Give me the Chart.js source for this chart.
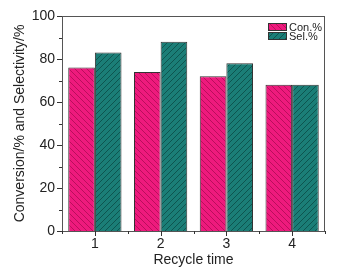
<!DOCTYPE html>
<html>
<head>
<meta charset="utf-8">
<script src="https://cdn.jsdelivr.net/npm/chart.js@4.4.1/dist/chart.umd.min.js"></script>
<style>
  html, body { margin: 0; padding: 0; background: #fff; }
  #wrap { width: 338px; height: 273px; }
</style>
</head>
<body>
<div id="wrap"><canvas id="grafico" width="338" height="273"></canvas></div>
<script>
const ciclos = ['1', '2', '3', '4'];
const conversao = [76, 74, 72, 68];
const seletividade = [83, 88, 78, 68];
const nomesSeries = ['Con.%', 'Sel.%'];

function hachura(fundo, linha, invertida) {
    const c = document.createElement('canvas');
    c.width = 6; c.height = 6;
    const g = c.getContext('2d');
    g.fillStyle = fundo;
    g.fillRect(0, 0, 6, 6);
    g.strokeStyle = linha;
    g.lineWidth = 0.8;
    g.beginPath();
    if (invertida) {
        g.moveTo(-1, -1); g.lineTo(7, 7);
        g.moveTo(-4, 2); g.lineTo(4, 10);
        g.moveTo(2, -4); g.lineTo(10, 4);
    } else {
        g.moveTo(-1, 7); g.lineTo(7, -1);
        g.moveTo(-4, 4); g.lineTo(4, -4);
        g.moveTo(2, 10); g.lineTo(10, 2);
    }
    g.stroke();
    return g.createPattern(c, 'repeat');
}

const ctx = document.getElementById('grafico').getContext('2d');
const padraoRosa = hachura('#ee1a7d', 'rgba(120,0,50,0.55)', true);
const padraoVerde = hachura('#1b7e77', 'rgba(0,40,36,0.6)', false);

const moldura = {
    id: 'moldura',
    afterDraw(chart) {
        const g = chart.ctx;
        const a = chart.chartArea;
        const x = chart.scales.x, y = chart.scales.y;
        g.save();
        g.strokeStyle = '#555';
        g.lineWidth = 1;
        g.strokeRect(a.left + 0.5, a.top + 0.5, a.right - a.left - 1, a.bottom - a.top);
        g.strokeStyle = '#333';
        g.beginPath();
        // ticks do eixo y
        for (let v = 0; v <= 100; v += 10) {
            const py = Math.round(y.getPixelForValue(v)) + 0.5;
            const len = v % 20 === 0 ? 5 : 3;
            g.moveTo(a.left - len, py); g.lineTo(a.left, py);
        }
        // ticks do eixo x
        for (let i = 0; i < ciclos.length; i++) {
            const px = Math.round(x.getPixelForValue(i)) + 0.5;
            g.moveTo(px, a.bottom); g.lineTo(px, a.bottom + 5);
        }
        for (let i = 0; i <= ciclos.length; i++) {
            const px = Math.round(x.getPixelForValue(i - 0.5)) + 0.5;
            g.moveTo(px, a.bottom); g.lineTo(px, a.bottom + 3);
        }
        g.stroke();
        // legenda
        const cores = [padraoRosa, padraoVerde];
        g.font = '11px "Liberation Sans", Arial, sans-serif';
        g.textBaseline = 'middle';
        nomesSeries.forEach((nome, i) => {
            const bx = 268, by = 23 + i * 9;
            g.fillStyle = cores[i];
            g.fillRect(bx, by, 19, 8);
            g.strokeStyle = '#333';
            g.strokeRect(bx + 0.5, by + 0.5, 18, 7);
            g.fillStyle = '#222';
            g.fillText(nome, bx + 21, by + 4.5);
        });
        g.restore();
    }
};

new Chart(ctx, {
    type: 'bar',
    data: {
        labels: ciclos,
        datasets: [{
            label: nomesSeries[0],
            data: conversao,
            backgroundColor: padraoRosa,
            borderColor: '#333',
            borderWidth: 1,
            categoryPercentage: 0.81,
            barPercentage: 1
        }, {
            label: nomesSeries[1],
            data: seletividade,
            backgroundColor: padraoVerde,
            borderColor: '#333',
            borderWidth: 1,
            categoryPercentage: 0.81,
            barPercentage: 1
        }]
    },
    options: {
        responsive: false,
        animation: false,
        layout: { padding: { left: 0, top: 16, right: 13, bottom: 0 } },
        plugins: { legend: { display: false }, tooltip: { enabled: false } },
        scales: {
            x: {
                grid: { display: false, drawTicks: false },
                border: { display: false },
                ticks: { color: '#222', padding: 5, font: { size: 14, family: '"Liberation Sans", Arial' } },
                title: { display: true, text: 'Recycle time', color: '#222', padding: { top: 0, bottom: 4 }, font: { size: 14, family: '"Liberation Sans", Arial' } },
                afterFit(scale) { scale.height = 42; }
            },
            y: {
                min: 0,
                max: 100,
                grid: { display: false, drawTicks: false },
                border: { display: false },
                ticks: {
                    stepSize: 10,
                    color: '#222',
                    padding: 7,
                    font: { size: 14, family: '"Liberation Sans", Arial' },
                    callback: v => (v % 20 === 0 ? v : '')
                },
                title: { display: true, text: 'Conversion/% and Selectivity/%', color: '#222', padding: { top: 12, bottom: 0 }, font: { size: 14, family: '"Liberation Sans", Arial' } },
                afterFit(scale) { scale.width = 62; }
            }
        }
    },
    plugins: [moldura]
});
</script>
</body>
</html>
